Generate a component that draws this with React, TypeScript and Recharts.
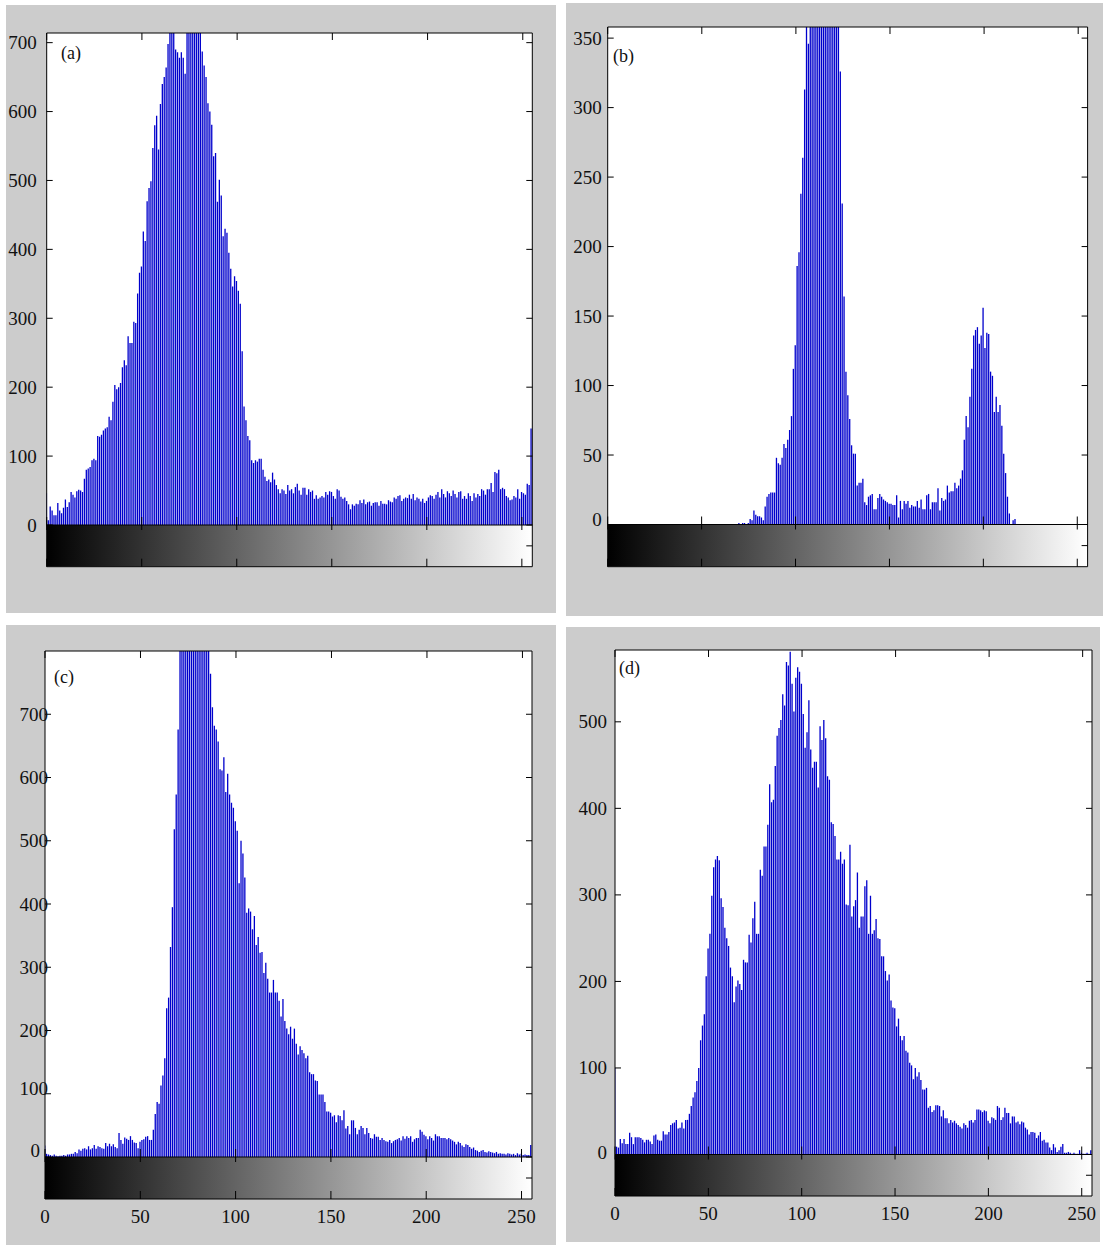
import React from 'react';
import { BarChart, Bar, XAxis, YAxis, CartesianGrid, ReferenceArea, ReferenceLine } from 'recharts';

// gray levels 0..255
const bins = Array.from({ length: 256 }, (_, i) => i);

const histA = [
  46, 7, 27, 21, 14, 14, 32, 21, 17, 25, 37, 26, 33, 48, 44, 40,
  49, 51, 50, 48, 67, 80, 82, 84, 94, 96, 94, 129, 128, 131, 137, 140,
  142, 157, 152, 179, 203, 197, 200, 206, 229, 239, 232, 274, 264, 264, 295, 293,
  336, 366, 375, 426, 412, 470, 489, 499, 547, 580, 594, 545, 611, 640, 650, 664,
  698, 730, 760, 725, 690, 686, 678, 686, 678, 655, 735, 770, 790, 760, 780, 745,
  725, 715, 687, 667, 650, 612, 600, 581, 535, 540, 469, 501, 478, 419, 430, 424,
  395, 372, 346, 361, 354, 340, 321, 252, 172, 152, 129, 123, 94, 90, 94, 92,
  96, 96, 80, 70, 64, 66, 62, 76, 66, 58, 52, 46, 52, 50, 45, 58,
  50, 52, 46, 55, 60, 50, 44, 54, 54, 44, 52, 48, 50, 38, 43, 38,
  40, 42, 40, 48, 44, 49, 48, 42, 38, 52, 50, 41, 38, 40, 35, 30,
  23, 30, 28, 31, 30, 36, 32, 37, 30, 33, 34, 28, 32, 33, 33, 28,
  35, 31, 31, 30, 36, 34, 33, 40, 38, 42, 43, 35, 38, 40, 39, 44,
  38, 45, 36, 40, 38, 34, 38, 32, 35, 40, 43, 42, 38, 44, 48, 40,
  52, 45, 40, 49, 46, 42, 50, 45, 40, 48, 49, 38, 42, 38, 46, 42,
  35, 46, 40, 45, 42, 52, 50, 44, 52, 52, 61, 48, 77, 75, 80, 52,
  54, 52, 42, 40, 36, 37, 42, 40, 52, 38, 48, 46, 44, 60, 58, 140,
];

const histB = [
  0, 0, 0, 0, 0, 0, 0, 0, 0, 0, 0, 0, 0, 0, 0, 0,
  0, 0, 0, 0, 0, 0, 0, 0, 0, 0, 0, 0, 0, 0, 0, 0,
  0, 0, 0, 0, 0, 0, 0, 0, 0, 0, 0, 0, 0, 0, 0, 0,
  0, 0, 0, 0, 0, 0, 0, 0, 0, 0, 0, 0, 0, 0, 0, 0,
  0, 0, 0, 0, 0, 0, 1, 0, 1, 1, 0, 1, 4, 3, 10, 7,
  6, 6, 5, 3, 13, 20, 22, 23, 23, 23, 48, 44, 43, 48, 58, 55,
  61, 68, 78, 112, 129, 186, 196, 238, 264, 313, 380, 346, 390, 400, 420, 410,
  430, 425, 440, 415, 420, 400, 410, 395, 380, 375, 365, 370, 326, 231, 164, 110,
  93, 76, 57, 51, 51, 28, 30, 30, 33, 16, 14, 20, 21, 22, 11, 11,
  19, 22, 20, 18, 17, 16, 15, 15, 14, 14, 21, 5, 17, 11, 17, 15,
  17, 12, 14, 13, 13, 17, 12, 18, 11, 11, 21, 22, 11, 16, 16, 16,
  26, 10, 19, 17, 18, 28, 23, 24, 24, 30, 26, 28, 33, 39, 61, 78,
  70, 92, 112, 136, 140, 142, 130, 136, 156, 127, 138, 137, 110, 107, 81, 92,
  81, 86, 71, 51, 37, 20, 8, 0, 3, 4, 0, 0, 0, 0, 0, 0,
  0, 0, 0, 0, 0, 0, 0, 0, 0, 0, 0, 0, 0, 0, 0, 0,
  0, 0, 0, 0, 0, 0, 0, 0, 0, 0, 0, 0, 0, 0, 0, 0,
];

const histC = [
  18, 5, 4, 3, 2, 4, 2, 1, 2, 2, 3, 2, 4, 4, 5, 5,
  8, 6, 12, 10, 13, 14, 12, 17, 12, 14, 19, 13, 17, 16, 14, 13,
  22, 17, 21, 17, 20, 16, 14, 38, 27, 21, 31, 29, 27, 33, 27, 23,
  22, 14, 24, 27, 28, 32, 33, 27, 27, 43, 68, 87, 84, 113, 129, 156,
  235, 252, 332, 395, 518, 573, 676, 840, 900, 950, 1000, 1020, 980, 960, 1000, 950,
  920, 900, 880, 860, 850, 830, 810, 764, 711, 682, 676, 657, 613, 611, 632, 577,
  606, 573, 560, 552, 531, 516, 433, 500, 480, 442, 386, 393, 388, 360, 381, 335,
  348, 323, 324, 291, 307, 282, 260, 260, 280, 260, 260, 247, 222, 250, 215, 203,
  194, 206, 187, 203, 179, 162, 175, 169, 164, 156, 160, 134, 131, 131, 121, 120,
  99, 99, 99, 87, 72, 72, 70, 64, 66, 55, 66, 65, 58, 74, 45, 49,
  36, 58, 58, 46, 36, 43, 49, 46, 36, 46, 38, 30, 29, 36, 32, 32,
  27, 30, 27, 25, 24, 27, 22, 25, 27, 28, 30, 26, 33, 29, 33, 30,
  33, 24, 28, 30, 30, 43, 40, 35, 33, 28, 33, 30, 26, 36, 33, 33,
  30, 30, 30, 28, 30, 28, 26, 24, 20, 24, 22, 18, 16, 20, 19, 16,
  13, 15, 11, 10, 8, 10, 11, 8, 7, 9, 8, 7, 6, 8, 5, 6,
  5, 5, 4, 6, 5, 4, 5, 3, 6, 4, 5, 3, 4, 3, 3, 19,
];

const histD = [
  100, 9, 8, 18, 13, 18, 12, 12, 25, 20, 12, 20, 20, 20, 19, 17,
  14, 17, 17, 15, 12, 22, 23, 17, 16, 16, 27, 23, 23, 26, 34, 36,
  37, 40, 30, 31, 37, 30, 40, 40, 47, 56, 66, 72, 85, 100, 132, 149,
  162, 206, 238, 255, 299, 332, 341, 345, 340, 296, 286, 262, 250, 241, 216, 206,
  176, 194, 201, 197, 190, 225, 222, 222, 254, 245, 273, 292, 255, 255, 329, 322,
  356, 356, 381, 428, 407, 410, 449, 484, 493, 502, 532, 519, 569, 565, 581, 544,
  512, 551, 563, 558, 544, 509, 470, 488, 525, 468, 447, 454, 454, 424, 495, 479,
  502, 481, 437, 433, 384, 382, 368, 341, 341, 350, 336, 341, 289, 288, 358, 275,
  287, 294, 326, 262, 275, 275, 310, 317, 255, 299, 255, 259, 272, 250, 249, 229,
  229, 212, 201, 208, 178, 170, 169, 148, 157, 137, 132, 137, 120, 118, 106, 103,
  87, 100, 90, 95, 86, 75, 75, 77, 54, 56, 49, 51, 57, 57, 56, 44,
  51, 42, 42, 36, 40, 37, 39, 36, 34, 32, 30, 36, 34, 31, 39, 40,
  37, 40, 52, 52, 51, 49, 51, 50, 39, 36, 43, 42, 40, 56, 54, 40,
  43, 54, 48, 48, 36, 44, 44, 37, 38, 35, 38, 37, 31, 29, 23, 26,
  26, 25, 19, 22, 26, 16, 17, 14, 14, 8, 5, 12, 8, 3, 5, 9,
  12, 2, 2, 3, 2, 1, 2, 1, 1, 5, 2, 1, 1, 2, 1, 5,
];

const xTicks = [0, 50, 100, 150, 200, 250];
const yTicksA = [0, 100, 200, 300, 400, 500, 600, 700];
const yTicksB = [0, 50, 100, 150, 200, 250, 300, 350];
const yTicksC = [0, 100, 200, 300, 400, 500, 600, 700];
const yTicksD = [0, 100, 200, 300, 400, 500];

const X_MAX = 255.5;
const FONT = '"Liberation Serif", "DejaVu Serif", serif';
const BAR_COLOR = '#0000cc';

const panels = [
  {
    name: 'a', values: histA, yTicks: yTicksA, yMax: 714,
    box: { left: 6, top: 5, width: 550, height: 608 },
    pad: { top: 28, right: 23.7, bottom: 46.3, left: 40.7 },
    cbar: 41.7, gap: 10, nudge: {}, tag: { x: 61, y: 53 }, showX: false,
  },
  {
    name: 'b', values: histB, yTicks: yTicksB, yMax: 358,
    box: { left: 566, top: 3, width: 537, height: 613 },
    pad: { top: 24, right: 15.4, bottom: 49.3, left: 41.7 },
    cbar: 42.2, gap: 6, nudge: { 0: -5 }, tag: { x: 613, y: 56 }, showX: false,
  },
  {
    name: 'c', values: histC, yTicks: yTicksC, yMax: 800,
    box: { left: 6, top: 625, width: 550, height: 620 },
    pad: { top: 26, right: 24, bottom: 46, left: 39 },
    cbar: 42, gap: -3, zeroGap: 5, nudge: { 0: -7, 100: -5 }, tag: { x: 54, y: 677 }, showX: true,
  },
  {
    name: 'd', values: histD, yTicks: yTicksD, yMax: 583,
    box: { left: 566, top: 627, width: 534, height: 615 },
    pad: { top: 23, right: 8, bottom: 46, left: 49 },
    cbar: 41.5, gap: 8, nudge: { 0: -2 }, tag: { x: 619, y: 668 }, showX: true,
  },
];

const Label = ({ x, y, anchor, children }: any) => (
  <text
    x={x}
    y={y}
    textAnchor={anchor}
    dominantBaseline="central"
    fontFamily={FONT}
    fontSize={19}
    fill="#111"
    style={{ fontFamily: FONT, fontSize: 19 }}
  >
    {children}
  </text>
);

const Histogram = ({ p }: { p: any }) => {
  const data = bins.map((x, i) => ({ x, v: p.values[i] }));
  const plotW = p.box.width - p.pad.left - p.pad.right;
  const plotH = p.box.height - p.pad.top - p.pad.bottom;
  const histH = plotH - p.cbar;
  const yMin = -(p.cbar / histH) * p.yMax;
  const gradId = `cbar-${p.name}`;

  const leftTick = (props: any) => {
    const { x, y, payload } = props;
    const v = payload.value;
    const gap = v === 0 && p.zeroGap !== undefined ? p.zeroGap : p.gap;
    const dy = p.nudge[v] || 0;
    return (
      <g>
        <line x1={x} x2={x + 6} y1={y} y2={y} stroke="#000" />
        <line x1={x + plotW - 6} x2={x + plotW} y1={y} y2={y} stroke="#000" />
        {v === 0 && (
          <line x1={x + plotW - 6} x2={x + plotW} y1={y + p.cbar / 2} y2={y + p.cbar / 2} stroke="#000" />
        )}
        <Label x={x - gap} y={y + dy} anchor="end">{v}</Label>
      </g>
    );
  };

  const topTick = (props: any) => {
    const { x, y } = props;
    return <line x1={x} x2={x} y1={y} y2={y + 7} stroke="#000" />;
  };

  const bottomTick = (props: any) => {
    const { x, y, payload } = props;
    return (
      <g>
        <line x1={x} x2={x} y1={y} y2={y - 8} stroke="#000" />
        <line x1={x} x2={x} y1={y - p.cbar} y2={y - p.cbar + 5} stroke="#000" />
        <line x1={x} x2={x} y1={y - p.cbar} y2={y - p.cbar - 8} stroke="#000" />
        {p.showX && <Label x={x} y={y + 17} anchor="middle">{payload.value}</Label>}
      </g>
    );
  };

  return (
    <div
      style={{
        position: 'absolute',
        left: p.box.left,
        top: p.box.top,
        width: p.box.width,
        height: p.box.height,
        background: '#cccccc',
      }}
    >
      <BarChart
        width={p.box.width}
        height={p.box.height}
        data={data}
        margin={{ top: 0, right: 0, bottom: 0, left: 0 }}
        barGap={0}
      >
        <defs>
          <linearGradient id={gradId} x1="0" y1="0" x2="1" y2="0">
            <stop offset="0%" stopColor="#000" />
            <stop offset="100%" stopColor="#fff" />
          </linearGradient>
        </defs>
        <CartesianGrid horizontal={false} vertical={false} fill="#fff" stroke="none" />
        <XAxis
          type="number"
          dataKey="x"
          domain={[0, X_MAX]}
          allowDataOverflow
          ticks={xTicks}
          interval={0}
          height={p.pad.bottom}
          tickSize={0}
          tickMargin={0}
          tickLine={false}
          axisLine={{ stroke: '#000' }}
          tick={bottomTick}
        />
        <XAxis
          xAxisId="top"
          orientation="top"
          type="number"
          domain={[0, X_MAX]}
          allowDataOverflow
          ticks={xTicks}
          interval={0}
          height={p.pad.top}
          tickSize={0}
          tickMargin={0}
          tickLine={false}
          axisLine={{ stroke: '#000' }}
          tick={topTick}
        />
        <YAxis
          type="number"
          domain={[yMin, p.yMax]}
          allowDataOverflow
          ticks={p.yTicks}
          interval={0}
          width={p.pad.left}
          tickSize={0}
          tickMargin={0}
          tickLine={false}
          axisLine={{ stroke: '#000' }}
          tick={leftTick}
        />
        <YAxis
          yAxisId="right"
          orientation="right"
          type="number"
          domain={[yMin, p.yMax]}
          allowDataOverflow
          width={p.pad.right}
          tick={false}
          tickLine={false}
          axisLine={{ stroke: '#000' }}
        />
        <ReferenceArea
          x1={0}
          x2={X_MAX}
          y1={yMin}
          y2={0}
          fill={`url(#${gradId})`}
          fillOpacity={1}
          stroke="none"
          ifOverflow="hidden"
        />
        <ReferenceLine y={0} stroke="#000" strokeWidth={1} />
        <Bar dataKey="v" fill={BAR_COLOR} barSize={1.3} isAnimationActive={false} />
      </BarChart>
    </div>
  );
};

const App = () => {
  return (
    <div
      style={{
        position: 'absolute',
        left: 0,
        top: 0,
        width: 1107,
        height: 1247,
        background: '#fff',
        overflow: 'hidden',
      }}
    >
      {panels.map((p) => (
        <Histogram key={p.name} p={p} />
      ))}
      {panels.map((p) => (
        <div
          key={`tag-${p.name}`}
          style={{
            position: 'absolute',
            left: p.tag.x,
            top: p.tag.y - 10,
            lineHeight: '20px',
            fontFamily: FONT,
            fontSize: 18,
            color: '#111',
          }}
        >
          ({p.name})
        </div>
      ))}
    </div>
  );
};

export default App;
